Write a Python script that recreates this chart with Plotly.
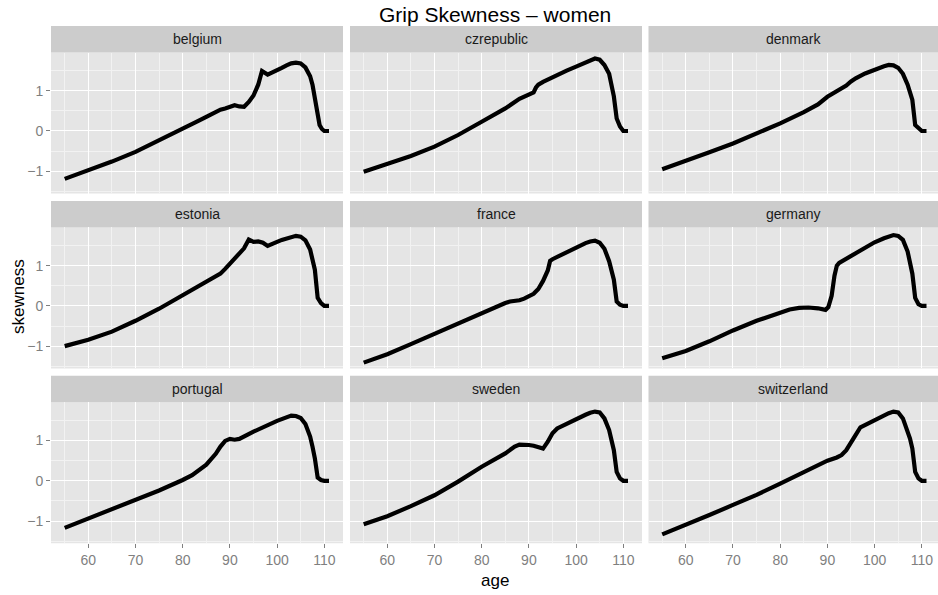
import plotly.graph_objects as go

# ---- data: grip-strength skewness by age, women ----
countries = ["belgium", "czrepublic", "denmark",
             "estonia", "france", "germany",
             "portugal", "sweden", "switzerland"]

belgium_age = [55, 60, 65, 70, 75, 80, 83, 85, 87, 88, 89, 90, 91, 92, 93, 94, 95, 96, 96.8, 98, 99, 100,
               101, 102, 103, 104, 105, 106, 107, 107.5, 108, 108.5, 109, 109.5, 110, 111]
belgium_skew = [-1.19, -0.98, -0.76, -0.52, -0.24, 0.06, 0.23, 0.35, 0.48, 0.53, 0.56, 0.60, 0.64, 0.61,
                0.60, 0.72, 0.88, 1.15, 1.49, 1.40, 1.45, 1.51, 1.57, 1.63, 1.68, 1.70, 1.68, 1.58, 1.36,
                1.15, 0.85, 0.45, 0.15, 0.05, 0.0, 0.0]

czrepublic_age = [55, 60, 65, 70, 75, 80, 85, 88, 90, 91, 91.5, 92, 93, 95, 98, 100, 102, 103, 104, 105,
                  106, 107, 107.5, 108, 108.6, 109.3, 110, 111]
czrepublic_skew = [-1.01, -0.82, -0.62, -0.39, -0.10, 0.23, 0.56, 0.80, 0.92, 0.96, 1.08, 1.15, 1.22, 1.34,
                   1.50, 1.60, 1.71, 1.76, 1.80, 1.77, 1.64, 1.42, 1.15, 0.86, 0.31, 0.11, 0.0, 0.0]

denmark_age = [55, 60, 65, 70, 75, 80, 85, 87, 88, 90, 91, 92, 93, 94, 95, 96, 98, 100, 102, 103, 104, 105,
               106, 107, 107.5, 108, 108.6, 109.3, 110, 111]
denmark_skew = [-0.95, -0.75, -0.53, -0.31, -0.07, 0.19, 0.47, 0.59, 0.66, 0.85, 0.92, 0.96, 1.03, 1.13,
                1.23, 1.31, 1.43, 1.53, 1.61, 1.64, 1.63, 1.57, 1.42, 1.15, 0.98, 0.77, 0.15, 0.06, 0.0, 0.0]

estonia_age = [55, 60, 65, 70, 75, 80, 85, 87, 88, 89, 90, 91, 92, 93, 94, 95, 96, 97, 98, 99, 100, 101,
               102, 103, 104, 105, 106, 107, 107.5, 108, 108.6, 109.3, 110, 111]
estonia_skew = [-1.0, -0.84, -0.64, -0.37, -0.07, 0.27, 0.60, 0.73, 0.80, 0.92, 1.05, 1.20, 1.32, 1.43,
                1.65, 1.59, 1.60, 1.57, 1.49, 1.53, 1.59, 1.64, 1.68, 1.72, 1.74, 1.72, 1.63, 1.40, 1.15,
                0.90, 0.20, 0.07, 0.0, 0.0]

france_age = [55, 60, 65, 70, 75, 80, 85, 86, 87, 88, 89, 90, 91, 92, 93, 94, 94.5, 95, 97, 100, 102, 103,
              104, 105, 106, 107, 107.5, 108, 108.6, 109.3, 110, 111]
france_skew = [-1.41, -1.20, -0.95, -0.69, -0.43, -0.18, 0.07, 0.11, 0.12, 0.14, 0.18, 0.23, 0.30, 0.42,
               0.62, 0.88, 1.12, 1.16, 1.28, 1.46, 1.56, 1.60, 1.62, 1.57, 1.42, 1.11, 0.90, 0.65, 0.11,
               0.03, 0.0, 0.0]

germany_age = [55, 60, 65, 70, 75, 80, 82, 84, 86, 88, 89, 89.6, 90.2, 90.9, 91.5, 92, 92.5, 95, 100, 102,
               103, 104, 105, 106, 107, 107.5, 108, 108.6, 109.3, 110, 111]
germany_skew = [-1.30, -1.12, -0.88, -0.61, -0.37, -0.15, -0.09, -0.05, -0.04, -0.06, -0.07, -0.10, -0.03,
                0.25, 0.75, 1.00, 1.07, 1.25, 1.58, 1.68, 1.73, 1.76, 1.74, 1.64, 1.35, 1.05, 0.80, 0.20,
                0.04, 0.0, 0.0]

portugal_age = [55, 60, 65, 70, 75, 80, 82, 85, 86, 87, 88, 89, 90, 91, 92, 95, 100, 102, 103, 104, 105,
                106, 107, 107.5, 108, 108.6, 109.3, 110, 111]
portugal_skew = [-1.17, -0.94, -0.70, -0.47, -0.24, 0.02, 0.14, 0.40, 0.52, 0.67, 0.85, 0.99, 1.04, 1.02,
                 1.04, 1.22, 1.49, 1.59, 1.62, 1.61, 1.56, 1.41, 1.10, 0.85, 0.56, 0.08, 0.02, 0.0, 0.0]

sweden_age = [55, 60, 65, 70, 75, 80, 85, 87, 88, 89, 90, 91, 92, 93, 94, 95, 96, 98, 100, 102, 103, 104,
              105, 106, 107, 107.5, 108, 108.6, 109.3, 110, 111]
sweden_skew = [-1.08, -0.88, -0.63, -0.36, -0.02, 0.35, 0.68, 0.85, 0.90, 0.90, 0.89, 0.87, 0.84, 0.80,
               0.97, 1.18, 1.30, 1.42, 1.53, 1.64, 1.69, 1.72, 1.70, 1.55, 1.26, 1.0, 0.76, 0.22, 0.06,
               0.0, 0.0]

switzerland_age = [55, 60, 65, 70, 75, 80, 85, 88, 90, 92, 93, 94, 95, 96, 97, 100, 102, 103, 104, 105,
                   106, 107, 107.5, 108, 108.6, 109.3, 110, 111]
switzerland_skew = [-1.33, -1.10, -0.85, -0.60, -0.35, -0.07, 0.22, 0.39, 0.50, 0.58, 0.64, 0.76, 0.93,
                    1.14, 1.33, 1.51, 1.63, 1.68, 1.72, 1.70, 1.55, 1.26, 1.05, 0.80, 0.22, 0.06, 0.0, 0.0]

series = {
    "belgium": (belgium_age, belgium_skew),
    "czrepublic": (czrepublic_age, czrepublic_skew),
    "denmark": (denmark_age, denmark_skew),
    "estonia": (estonia_age, estonia_skew),
    "france": (france_age, france_skew),
    "germany": (germany_age, germany_skew),
    "portugal": (portugal_age, portugal_skew),
    "sweden": (sweden_age, sweden_skew),
    "switzerland": (switzerland_age, switzerland_skew),
}

x_ticks = [60, 70, 80, 90, 100, 110]
y_ticks = [-1, 0, 1]

# ---- layout geometry (pixels) ----
W, H = 938, 595
col_px = [(51, 343), (350, 642), (648.5, 938)]
strip_h, panel_h, row_gap = 26.5, 141, 7.4
row_top = [26 + r * (strip_h + panel_h + row_gap) for r in range(3)]
x_lo = 52.1
px_per_year = 4.72
y_range = [-1.553, 1.95]

GREY_TXT = "#7F7F7F"
FONT = "Liberation Sans, Arial, sans-serif"


def px_x(p):
    return p / W


def px_y(p):
    return 1 - p / H


fig = go.Figure()
shapes, annotations = [], []

for i, name in enumerate(countries):
    r, c = divmod(i, 3)
    n = "" if i == 0 else str(i + 1)
    x0, x1 = col_px[c]
    st = row_top[r]
    p_top, p_bot = st + strip_h, st + strip_h + panel_h
    ages, skew = series[name]

    fig.add_trace(go.Scatter(
        x=ages, y=skew, mode="lines",
        line=dict(color="black", width=4.2),
        xaxis="x" + n, yaxis="y" + n, showlegend=False, hoverinfo="skip"))

    fig.layout["xaxis" + n] = dict(
        domain=[px_x(x0), px_x(x1)],
        range=[x_lo, x_lo + (x1 - x0) / px_per_year],
        anchor="y" + n,
        tickvals=x_ticks, showticklabels=(r == 2),
        ticks="outside" if r == 2 else "", ticklen=4, tickwidth=1, tickcolor=GREY_TXT,
        tickfont=dict(size=14, color=GREY_TXT, family=FONT),
        showgrid=True, gridcolor="white", gridwidth=1.3,
        minor=dict(tick0=55, dtick=10, showgrid=True, gridcolor="#F2F2F2", gridwidth=0.8, ticks=""),
        zeroline=False, showline=False, fixedrange=True)
    fig.layout["yaxis" + n] = dict(
        domain=[px_y(p_bot), px_y(p_top)],
        range=y_range,
        anchor="x" + n,
        tickvals=y_ticks, ticktext=["\u22121", "0", "1"], showticklabels=(c == 0),
        ticks="outside" if c == 0 else "", ticklen=4, tickwidth=1, tickcolor=GREY_TXT,
        tickfont=dict(size=14, color=GREY_TXT, family=FONT),
        showgrid=True, gridcolor="white", gridwidth=1.3,
        minor=dict(tick0=-1.5, dtick=1, showgrid=True, gridcolor="#F2F2F2", gridwidth=0.8, ticks=""),
        zeroline=False, showline=False, fixedrange=True)

    # panel background and facet strip
    shapes.append(dict(type="rect", xref="paper", yref="paper", layer="below",
                       x0=px_x(x0), x1=px_x(x1), y0=px_y(p_bot), y1=px_y(p_top),
                       fillcolor="#E5E5E5", line=dict(width=0)))
    shapes.append(dict(type="rect", xref="paper", yref="paper", layer="below",
                       x0=px_x(x0), x1=px_x(x1), y0=px_y(p_top), y1=px_y(st),
                       fillcolor="#CCCCCC", line=dict(width=0)))
    annotations.append(dict(text=name, xref="paper", yref="paper", showarrow=False,
                            x=px_x((x0 + x1) / 2), y=px_y(st + strip_h / 2),
                            xanchor="center", yanchor="middle",
                            font=dict(size=14, color="#1A1A1A", family=FONT)))

panel_mid_x = (col_px[0][0] + col_px[2][1]) / 2
annotations.append(dict(text="Grip Skewness \u2013 women", xref="paper", yref="paper", showarrow=False,
                        x=px_x(panel_mid_x), y=px_y(14), xanchor="center", yanchor="middle",
                        font=dict(size=21, color="black", family=FONT)))
annotations.append(dict(text="age", xref="paper", yref="paper", showarrow=False,
                        x=px_x(panel_mid_x), y=px_y(580), xanchor="center", yanchor="middle",
                        font=dict(size=17, color="black", family=FONT)))
annotations.append(dict(text="skewness", xref="paper", yref="paper", showarrow=False, textangle=-90,
                        x=px_x(18), y=px_y(297), xanchor="center", yanchor="middle",
                        font=dict(size=17, color="black", family=FONT)))

fig.update_layout(
    width=W, height=H,
    margin=dict(l=0, r=0, t=0, b=0),
    paper_bgcolor="white", plot_bgcolor="rgba(0,0,0,0)",
    shapes=shapes, annotations=annotations,
    font=dict(family=FONT),
)

fig.write_html("out.html")
